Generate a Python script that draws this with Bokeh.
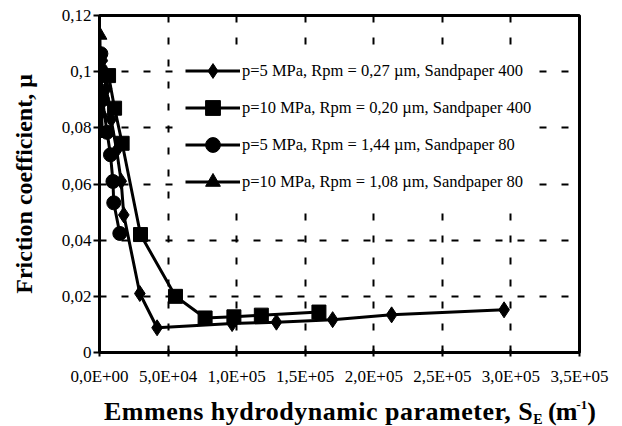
import json
from bokeh.plotting import figure
from bokeh.layouts import column
from bokeh.models import (Range1d, FixedTicker, CustomJSTickFormatter, Div,
                          Legend, LegendItem)
from bokeh.embed import file_html
from bokeh.resources import INLINE

# ---------------- data ----------------
s1_x = [2000, 5000, 8500, 12500, 15800, 17700, 29400, 42000, 96700, 129000, 170000, 213000, 295000]
s1_y = [0.104, 0.094, 0.083, 0.072, 0.061, 0.049, 0.021, 0.0088, 0.0103, 0.0108, 0.0117, 0.0134, 0.0152]

s2_x = [6600, 11000, 16500, 29900, 55400, 77000, 98000, 118000, 160000]
s2_y = [0.0986, 0.087, 0.0745, 0.042, 0.020, 0.0123, 0.0127, 0.0133, 0.0144]

s3_x = [1000, 800, 2200, 5500, 8000, 9800, 10400, 14800]
s3_y = [0.1064, 0.1007, 0.090, 0.0784, 0.0704, 0.0609, 0.0533, 0.0424]

s4_x = [300, 500, 800, 1200, 1600, 2000]
s4_y = [0.113, 0.105, 0.098, 0.092, 0.085, 0.078]

series_labels = [
    "p=5 MPa, Rpm = 0,27 µm, Sandpaper 400",
    "p=10 MPa, Rpm = 0,20 µm, Sandpaper 400",
    "p=5 MPa, Rpm = 1,44 µm, Sandpaper 80",
    "p=10 MPa, Rpm = 1,08 µm, Sandpaper 80",
]

x_ticks = [0, 50000, 100000, 150000, 200000, 250000, 300000, 350000]
x_tick_labels = ["0,0E+00", "5,0E+04", "1,0E+05", "1,5E+05", "2,0E+05", "2,5E+05", "3,0E+05", "3,5E+05"]
y_ticks = [0, 0.02, 0.04, 0.06, 0.08, 0.1, 0.12]
y_tick_labels = ["0", "0,02", "0,04", "0,06", "0,08", "0,1", "0,12"]

x_title_main = "Emmens hydrodynamic parameter, S"
x_title_sub = "E"
x_title_unit = "(m"
x_title_sup = "-1"
x_title_end = ")"
y_title = "Friction coefficient, μ"

# ---------------- figure ----------------
W = 622
PH = 392          # plot height; title strip below
DH = 426 - PH
BL, BR, BT, BB = 99, 43, 15, 40
XMIN, XMAX, YMIN, YMAX = 0, 350000, 0, 0.12
FONT = "Liberation Serif"

p = figure(width=W, height=PH, output_backend="svg", toolbar_location=None,
           x_range=Range1d(XMIN, XMAX), y_range=Range1d(YMIN, YMAX),
           min_border_left=BL, min_border_right=BR, min_border_top=BT, min_border_bottom=BB,
           background_fill_color="white", border_fill_color="white", margin=0)


def fmt(vals, labs):
    return CustomJSTickFormatter(code="""
const vals = %s; const labs = %s;
for (let i = 0; i < vals.length; i++) {
  if (Math.abs(vals[i] - tick) <= 1e-9 * Math.max(1, Math.abs(vals[i]))) return labs[i];
}
return "";
""" % (json.dumps(vals), json.dumps(labs)))


p.xaxis.ticker = FixedTicker(ticks=x_ticks)
p.yaxis.ticker = FixedTicker(ticks=y_ticks)
p.xaxis.formatter = fmt(x_ticks, x_tick_labels)
p.yaxis.formatter = fmt(y_ticks, y_tick_labels)
p.xgrid.ticker = FixedTicker(ticks=x_ticks)
p.ygrid.ticker = FixedTicker(ticks=y_ticks)

for ax in (p.xaxis, p.yaxis):
    ax.axis_line_color = "black"
    ax.axis_line_width = 3
    ax.major_tick_line_color = "black"
    ax.major_tick_line_width = 2
    ax.minor_tick_line_color = None
    ax.major_label_text_font = FONT
    ax.major_label_text_font_size = "17px"
    ax.major_label_text_color = "black"

p.xaxis.major_tick_out = 4
p.xaxis.major_tick_in = 3
p.xaxis.major_label_standoff = 10
p.yaxis.major_tick_out = 6
p.yaxis.major_tick_in = 0
p.yaxis.major_label_standoff = 2

p.yaxis.axis_label = y_title
p.yaxis.axis_label_text_font = FONT
p.yaxis.axis_label_text_font_size = "24px"
p.yaxis.axis_label_text_font_style = "bold"
p.yaxis.axis_label_text_color = "black"
p.yaxis.axis_label_standoff = 22

for g in (p.xgrid, p.ygrid):
    g.grid_line_color = "black"
    g.grid_line_width = 2
    g.grid_line_dash = "7 15"

p.outline_line_color = "black"
p.outline_line_width = 3
p.outline_line_alpha = 1.0

# ---------------- series ----------------
LW = 3
items = []
specs = [
    (s1_x, s1_y, "diamond", 16),
    (s2_x, s2_y, "square", 14),
    (s3_x, s3_y, "circle", 14),
    (s4_x, s4_y, "triangle", 14),
]
for (xs, ys, mk, sz), lab in zip(specs, series_labels):
    r_line = p.line(xs, ys, line_color="black", line_width=LW)
    r_pts = p.scatter(xs, ys, marker=mk, size=sz, fill_color="black", line_color="black")
    items.append(LegendItem(label=lab, renderers=[r_line, r_pts]))

legend = Legend(items=items, location=(86, 152),
                glyph_width=55, glyph_height=37, label_height=37, spacing=0,
                padding=6, margin=0, label_standoff=2,
                label_text_font=FONT, label_text_font_size="16.5px", label_text_color="black",
                background_fill_color="white", background_fill_alpha=1.0,
                border_line_color=None)
p.add_layout(legend)

# ---------------- x-axis title with subscript / superscript ----------------
html = (
    '<span style="letter-spacing:0.5px">%s</span>'
    '<span style="font-size:14px;position:relative;top:4px">%s</span>'
    '<span style="letter-spacing:-1px"> %s</span>'
    '<span style="font-size:13px;position:relative;top:-11px">%s</span>'
    '<span>%s</span>'
) % (x_title_main, x_title_sub, x_title_unit, x_title_sup, x_title_end)

title = Div(text=html, width=W, height=DH, margin=0,
            styles={"font-family": FONT, "font-size": "26px", "font-weight": "bold",
                    "line-height": "26px", "padding-top": "7px", "padding-left": "104px",
                    "white-space": "nowrap", "color": "black"})

layout = column(p, title, spacing=0, margin=0)

open("out.html", "w").write(file_html(layout, INLINE))
